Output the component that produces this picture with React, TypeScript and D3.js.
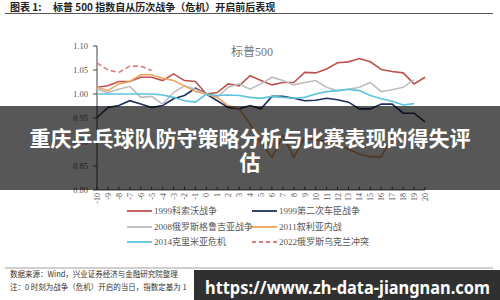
import React from "react";
import * as d3 from "d3";

const days = d3.range(-10, 21);
const xTickLabels = days.map(String);
const yTicks = [0.8, 0.85, 0.9, 0.95, 1.0, 1.05, 1.1];

const kosovo1999 = [1.014, 1.017, 1.026, 1.026, 1.035, 1.035, 1.028, 1.042, 1.028, 1.026, 1.0, 1.003, 1.021, 1.017, 1.038, 1.028, 1.019, 1.024, 1.024, 1.045, 1.044, 1.052, 1.065, 1.067, 1.074, 1.067, 1.051, 1.047, 1.044, 1.021, 1.035];
const chechnya1999 = [0.951, 0.972, 0.976, 0.986, 0.979, 0.972, 0.976, 0.99, 0.997, 1.012, 1.0, 0.986, 0.972, 0.969, 0.976, 0.969, 0.995, 0.995, 0.991, 0.986, 0.987, 0.991, 0.988, 0.983, 0.969, 0.969, 0.979, 0.979, 0.96, 0.96, 0.942];
const georgia2008 = [1.01, 1.003, 1.01, 1.016, 0.993, 0.995, 0.979, 1.003, 1.017, 1.01, 1.0, 0.993, 1.014, 1.021, 1.01, 1.021, 1.035, 1.028, 1.019, 1.024, 1.028, 1.014, 1.007, 1.01, 1.014, 1.024, 1.005, 1.009, 1.014, 1.03, null];
const syria2011 = [1.014, 1.007, 1.021, 1.026, 1.04, 1.04, 1.033, 1.028, 1.017, 1.005, 1.0, 0.993, 0.976, 0.969, 0.9375, 0.9, 0.868, 0.913, 0.868, 0.91, 0.905, 0.9, 0.895, 0.885, 0.875, 0.869, 0.869, 0.913, null, null, null];
const crimea2014 = [1.0, 1.0, 1.0, 1.0, 1.0, 1.0, 0.998, 0.993, 0.986, 0.983, 1.0, 0.997, 0.998, 0.997, 0.993, 0.991, 0.995, 0.993, 0.991, 0.993, 1.0, 1.005, 1.007, 1.01, 1.007, 0.997, 0.99, 0.985, 0.977, 0.98, null];
const ukraine2022 = [1.065, 1.05, 1.045, 1.058, 1.058, 1.049, null, null, null, null, null, null, null, null, null, null, null, null, null, null, null, null, null, null, null, null, null, null, null, null, null];

const seriesNames = ["1999科索沃战争", "1999第二次车臣战争", "2008俄罗斯格鲁吉亚战争", "2011叙利亚内战", "2014克里米亚危机", "2022俄罗斯乌克兰冲突"];
const seriesValues = [kosovo1999, chechnya1999, georgia2008, syria2011, crimea2014, ukraine2022];
const seriesColors = ["#C0504D", "#1F2F5E", "#BDBDBD", "#EFA25A", "#5BC3DC", "#E07A7A"];
const seriesDash = [null, null, null, null, null, "5,3"];

const titleText = "图表 1:";
const titleMain = "标普 500 指数自从历次战争（危机）开启前后表现";
const chartLabel = "标普500";
const sourceText = "数据来源：Wind，兴业证券经济与金融研究院整理";
const noteText = "注：0 时刻为战争（危机）开启的当日，指数定基为 1";
const bannerLines = ["重庆乒乓球队防守策略分析与比赛表现的得失评", "估"];
const watermark = "https://www.zh-data-jiangnan.com";

export default function App() {
  const x = d3.scaleLinear().domain([-10, 20]).range([97, 425]);
  const y = d3.scaleLinear().domain([0.8, 1.1]).range([190, 46]);
  const serif = "'Liberation Serif', 'DejaVu Serif', 'Noto Sans CJK SC', serif";
  const cjk = "'Noto Sans CJK SC', sans-serif";

  const line = d3
    .line<number | null>()
    .defined((d) => d !== null)
    .x((_, i) => x(days[i]))
    .y((d) => y(d as number));

  const legendPos = [
    [127, 211], [252, 211],
    [127, 227], [252, 227],
    [127, 242], [252, 242],
  ];

  return (
    <div style={{ position: "fixed", left: 0, top: 0 }}>
      <svg width={500} height={300} style={{ display: "block", background: "#fff" }}>
        <text x={10} y={11} fontFamily={cjk} fontWeight={700} fontSize={10} fill="#222">{titleText}</text>
        <text x={53} y={11} fontFamily={cjk} fontWeight={700} fontSize={10} fill="#222">{titleMain}</text>
        <line x1={5} x2={493} y1={13.5} y2={13.5} stroke="#555" strokeWidth={1} />

        {/* axes */}
        <line x1={97} x2={97} y1={46} y2={190} stroke="#444" strokeWidth={1} />
        <line x1={97} x2={425} y1={190} y2={190} stroke="#444" strokeWidth={1} />
        {yTicks.map((t) => (
          <g key={t}>
            <line x1={93} x2={97} y1={y(t)} y2={y(t)} stroke="#444" />
            <text x={88} y={y(t) + 3} textAnchor="end" fontFamily={serif} fontSize={8.5} fill="#555">{t.toFixed(2)}</text>
          </g>
        ))}
        {days.map((d, i) => (
          <g key={d}>
            <line x1={x(d)} x2={x(d)} y1={190} y2={187} stroke="#444" />
            <text transform={`translate(${x(d) + 3},${193}) rotate(-90)`} textAnchor="end" fontFamily={serif} fontSize={8} fill="#555">{xTickLabels[i]}</text>
          </g>
        ))}

        <text x={252} y={56} textAnchor="middle" fontFamily={serif} fontSize={12} fill="#777">{chartLabel}</text>

        {seriesValues.map((vals, i) => (
          <path key={i} d={line(vals) || ""} fill="none" stroke={seriesColors[i]} strokeWidth={1.6} strokeDasharray={seriesDash[i] || undefined} />
        ))}

        {seriesNames.map((n, i) => (
          <g key={n}>
            <line x1={legendPos[i][0]} x2={legendPos[i][0] + 25} y1={legendPos[i][1]} y2={legendPos[i][1]} stroke={seriesColors[i]} strokeWidth={1.8} strokeDasharray={seriesDash[i] ? "4,3" : undefined} />
            <text x={legendPos[i][0] + 27} y={legendPos[i][1] + 3} fontFamily={serif} fontSize={9} fill="#555">{n}</text>
          </g>
        ))}

        <line x1={5} x2={493} y1={268} y2={268} stroke="#888" strokeWidth={0.8} />
        <text x={10} y={277} fontFamily={cjk} fontSize={7.5} fill="#333">{sourceText}</text>
        <text x={10} y={290} fontFamily={cjk} fontSize={7.5} fill="#333">{noteText}</text>

        {/* banner overlay */}
        <rect x={0} y={106} width={500} height={84} fill="rgba(0,0,0,0.66)" />
        {bannerLines.map((l, i) => (
          <text key={i} x={250} y={146 + i * 24} textAnchor="middle" fontFamily={cjk} fontWeight={700} fontSize={21} fill="#fff">{l}</text>
        ))}

        <rect x={194} y={270} width={306} height={30} fill="rgba(30,30,30,0.92)" />
        <text x={205} y={294} fontFamily="'Noto Sans', 'Open Sans', sans-serif" fontWeight={700} fontSize={18} fill="#fff" textLength={285} lengthAdjust="spacingAndGlyphs">{watermark}</text>
      </svg>
    </div>
  );
}
